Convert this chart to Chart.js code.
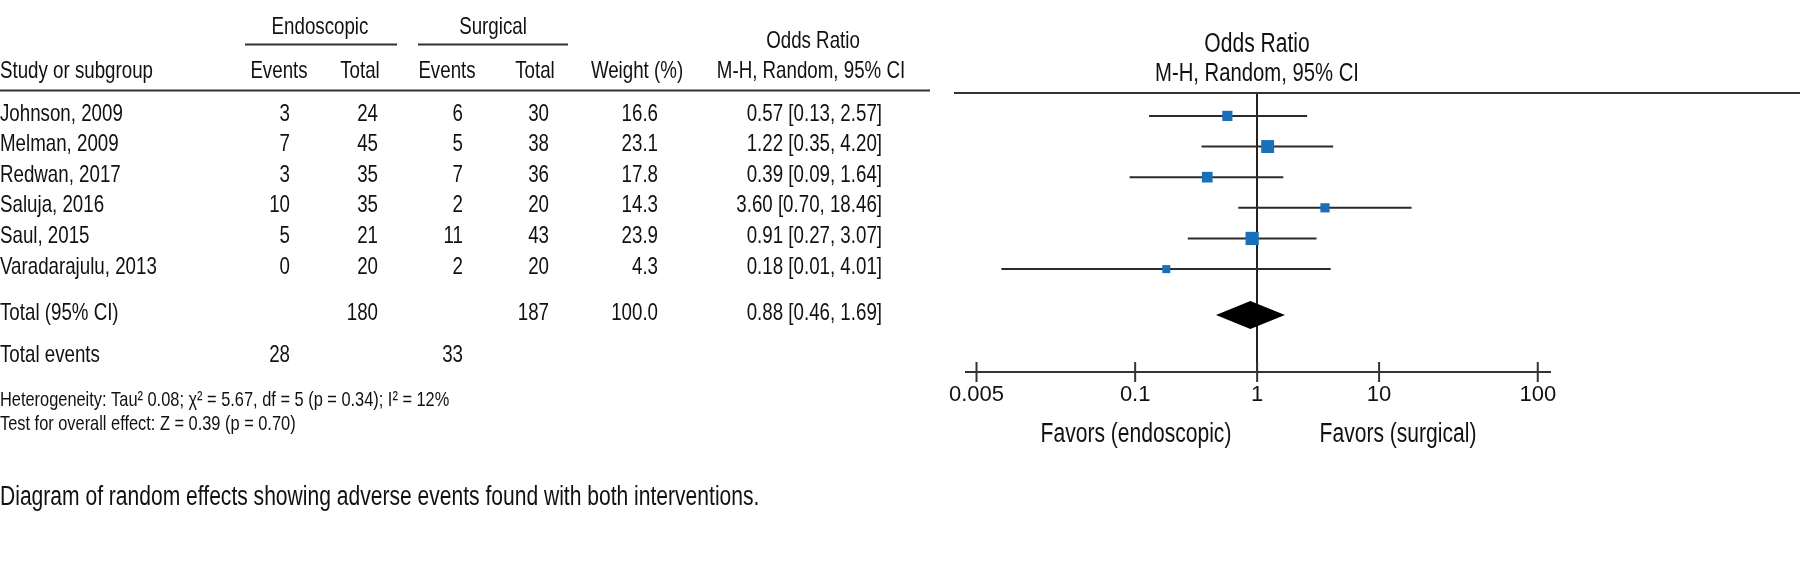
<!DOCTYPE html>
<html>
<head>
<meta charset="utf-8">
<script src="https://cdn.jsdelivr.net/npm/chart.js@4"></script>
<style>
  html, body { margin: 0; padding: 0; background: #fff; }
  #wrap { width: 1800px; height: 577px; position: relative; }
</style>
</head>
<body>
<div id="wrap"><canvas id="forest" width="1800" height="577"></canvas></div>
<script>
// study table
const studies = ["Johnson, 2009", "Melman, 2009", "Redwan, 2017", "Saluja, 2016", "Saul, 2015", "Varadarajulu, 2013"]
const endoEvents = [3, 7, 3, 10, 5, 0]
const endoTotal = [24, 45, 35, 35, 21, 20]
const surgEvents = [6, 5, 7, 2, 11, 2]
const surgTotal = [30, 38, 36, 20, 43, 20]
const weights = [16.6, 23.1, 17.8, 14.3, 23.9, 4.3]
const oddsRatio = [0.57, 1.22, 0.39, 3.60, 0.91, 0.18]
const ciLow = [0.13, 0.35, 0.09, 0.70, 0.27, 0.008]
const ciHigh = [2.57, 4.20, 1.64, 18.46, 3.07, 4.01]
const totalOR = [0.88, 0.46, 1.69]   // estimate, low, high

// x axis
const tickValues = [0.005, 0.1, 1, 10, 200]
const tickLabels = ["0.005", "0.1", "1", "10", "100"]

// no condensed face installed, so text is squeezed horizontally
const FONT = "'Liberation Sans', Arial, sans-serif"
const NARROW = 0.78
const INK = "#111"
const BLUE = "#1a6fba"

// y scale in rows: study i sits on row i
const rowTop = -0.747, rowBottom = 8.358, totalRow = 6.5

const sum = arr => arr.reduce((a, b) => a + b, 0)
const ciText = (est, lo, hi) => `${est.toFixed(2)} [${lo.toFixed(2)}, ${hi.toFixed(2)}]`
const markerRadius = w => Math.max(8, 3.2 + 0.42 * w) / Math.SQRT2

const tablePlugin = {
  id: "table",
  afterDraw(chart) {
    const ctx = chart.ctx
    const ys = chart.scales.y
    const xs = chart.scales.x
    const text = (s, x, y, align, size) => {
      ctx.save()
      ctx.fillStyle = INK
      ctx.textBaseline = "middle"
      ctx.font = (size || 24) + "px " + FONT
      ctx.textAlign = align || "left"
      ctx.translate(x, y)
      ctx.scale(NARROW, 1)
      ctx.fillText(s, 0, 0)
      ctx.restore()
    }
    const rule = (x1, y1, x2, y2) => {
      ctx.beginPath(); ctx.moveTo(x1, y1); ctx.lineTo(x2, y2); ctx.stroke()
    }

    // headers
    text("Endoscopic", 320, 27.5, "center")
    text("Surgical", 493, 27.5, "center")
    text("Odds Ratio", 813, 41, "center")
    text("Study or subgroup", 0, 71)
    text("Events", 279, 71, "center")
    text("Total", 360, 71, "center")
    text("Events", 447, 71, "center")
    text("Total", 535, 71, "center")
    text("Weight (%)", 637, 71, "center")
    text("M-H, Random, 95% CI", 811, 71, "center")
    text("Odds Ratio", 1257, 45, "center", 27)
    text("M-H, Random, 95% CI", 1257, 74, "center", 26)

    // study rows
    studies.forEach((s, i) => {
      const y = ys.getPixelForValue(i) - 2
      text(s, 0, y)
      text(String(endoEvents[i]), 290, y, "right")
      text(String(endoTotal[i]), 378, y, "right")
      text(String(surgEvents[i]), 463, y, "right")
      text(String(surgTotal[i]), 549, y, "right")
      text(weights[i].toFixed(1), 658, y, "right")
      text(ciText(oddsRatio[i], ciLow[i], ciHigh[i]), 882, y, "right")
    })

    // totals
    const ty = ys.getPixelForValue(totalRow) - 2
    text("Total (95% CI)", 0, ty)
    text(String(sum(endoTotal)), 378, ty, "right")
    text(String(sum(surgTotal)), 549, ty, "right")
    text(sum(weights).toFixed(1), 658, ty, "right")
    text(ciText(totalOR[0], totalOR[1], totalOR[2]), 882, ty, "right")
    text("Total events", 0, 355)
    text(String(sum(endoEvents)), 290, 355, "right")
    text(String(sum(surgEvents)), 463, 355, "right")

    text("Heterogeneity: Tau\u00b2 0.08; \u03c7\u00b2 = 5.67, df = 5 (p = 0.34); I\u00b2 = 12%", 0, 400, "left", 21)
    text("Test for overall effect: Z = 0.39 (p = 0.70)", 0, 424, "left", 21)
    text("Diagram of random effects showing adverse events found with both interventions.", 0, 498, "left", 27)

    text("Favors (endoscopic)", 1136, 435, "center", 27)
    text("Favors (surgical)", 1398, 435, "center", 27)

    // rules
    ctx.save()
    ctx.strokeStyle = "#333"
    ctx.lineWidth = 2
    rule(245, 44.5, 397, 44.5)
    rule(418, 44.5, 568, 44.5)
    rule(0, 90.5, 930, 90.5)
    rule(954, 93, 1800, 93)

    // tick marks crossing the axis
    const ay = xs.top
    xs.ticks.forEach(t => {
      const px = xs.getPixelForValue(t.value)
      rule(px, ay - 10, px, ay + 10)
    })
    ctx.restore()
  },
  afterDatasetsDraw(chart) {
    // pooled estimate diamond
    const ctx = chart.ctx
    const xs = chart.scales.x
    const ys = chart.scales.y
    const cy = ys.getPixelForValue(totalRow)
    const h = 14
    ctx.save()
    ctx.fillStyle = "#000"
    ctx.beginPath()
    ctx.moveTo(xs.getPixelForValue(totalOR[1]), cy)
    ctx.lineTo(xs.getPixelForValue(totalOR[0]), cy - h)
    ctx.lineTo(xs.getPixelForValue(totalOR[2]), cy)
    ctx.lineTo(xs.getPixelForValue(totalOR[0]), cy + h)
    ctx.closePath()
    ctx.fill()
    ctx.restore()
  }
}

new Chart(document.getElementById("forest"), {
  type: "scatter",
  data: {
    datasets: [
      {
        label: "Odds ratio",
        data: oddsRatio.map((v, i) => ({ x: v, y: i })),
        pointStyle: "rect",
        pointRadius: weights.map(markerRadius),
        backgroundColor: BLUE,
        borderColor: BLUE,
        borderWidth: 0
      },
      ...studies.map((s, i) => ({
        type: "line",
        label: s,
        data: [{ x: ciLow[i], y: i }, { x: ciHigh[i], y: i }],
        borderColor: "#2b2b2b",
        borderWidth: 2,
        pointRadius: 0
      }))
    ]
  },
  options: {
    responsive: false,
    animation: false,
    events: [],
    layout: { padding: { left: 966, right: 250, top: 93, bottom: 165 } },
    plugins: { legend: { display: false }, tooltip: { enabled: false } },
    scales: {
      x: {
        type: "logarithmic",
        min: 0.0041,
        max: 252,
        afterBuildTicks: scale => { scale.ticks = tickValues.map(v => ({ value: v })) },
        afterFit: scale => { scale.height = 40 },
        ticks: {
          callback: (v, i) => tickLabels[i],
          color: INK,
          font: { family: FONT, size: 22 },
          padding: 10,
          autoSkip: false,
          maxRotation: 0
        },
        grid: {
          drawTicks: false,
          color: c => (c.tick && c.tick.value === 1 ? "#222" : "rgba(0,0,0,0)"),
          lineWidth: 2
        },
        border: { display: true, color: "#333", width: 2 }
      },
      y: { type: "linear", display: false, reverse: true, min: rowTop, max: rowBottom }
    }
  },
  plugins: [tablePlugin]
})
</script>
</body>
</html>
